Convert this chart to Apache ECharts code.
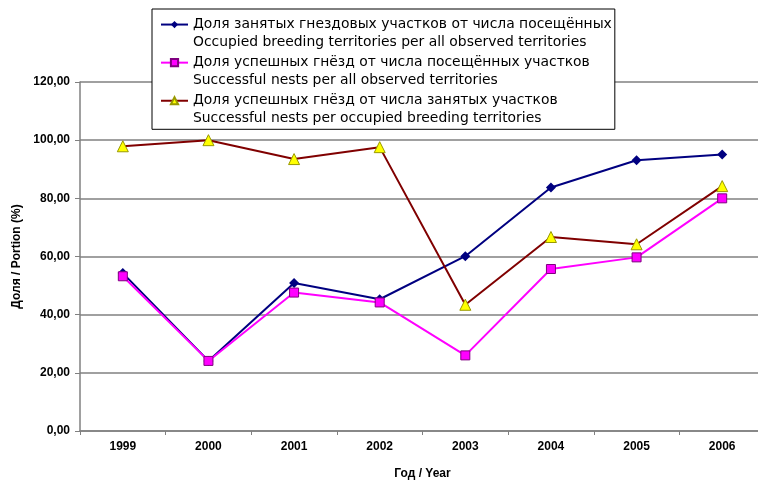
<!DOCTYPE html>
<html>
<head>
<meta charset="utf-8">
<script src="https://cdn.jsdelivr.net/npm/echarts@6/dist/echarts.min.js"></script>
<style>
html,body{margin:0;padding:0;background:#fff;}
#chart{width:758px;height:481px;}
</style>
</head>
<body>
<div id="chart"></div>
<script>
var years = ['1999','2000','2001','2002','2003','2004','2005','2006'];
var occupiedPerObserved = [54.3, 24.1, 50.9, 45.3, 60.1, 83.7, 93.1, 95.1];
var successPerObserved = [53.2, 24.1, 47.6, 44.2, 26.0, 55.7, 59.7, 80.0];
var successPerOccupied = [97.9, 100.0, 93.5, 97.6, 43.4, 66.7, 64.2, 84.2];
var namesRu = [
  'Доля занятых гнездовых участков от числа посещённых',
  'Доля успешных гнёзд от числа посещённых участков',
  'Доля успешных гнёзд от числа занятых участков'
];
var namesEn = [
  'Occupied breeding territories per all observed territories',
  'Successful nests per all observed territories',
  'Successful nests per occupied breeding territories'
];
var yTicks = { min: 0, max: 120, interval: 20 };

var font = 'Arial, "Liberation Sans", sans-serif';
var legendFont = '"DejaVu Sans", sans-serif';
var chart = echarts.init(document.getElementById('chart'));
chart.setOption({
  backgroundColor: '#ffffff',
  animation: false,
  grid: { left: 80, right: -7, top: 82, bottom: 50, containLabel: false, outerBoundsMode: 'none' },
  legend: {
    orient: 'vertical',
    left: 152,
    top: 9,
    padding: [-11, 3, 2, 8],
    itemWidth: 27,
    itemHeight: 9,
    itemGap: -15,
    backgroundColor: '#ffffff',
    borderColor: '#000000',
    borderWidth: 1,
    data: namesRu,
    formatter: function (name) {
      var i = namesRu.indexOf(name);
      return '\n' + name + '\n' + namesEn[i];
    },
    textStyle: {
      fontFamily: legendFont,
      fontSize: 13.9,
      color: '#000',
      lineHeight: 17.7
    }
  },
  xAxis: {
    type: 'category',
    data: years,
    boundaryGap: true,
    name: 'Год / Year',
    nameLocation: 'middle',
    nameGap: 37,
    nameTextStyle: { fontFamily: font, fontSize: 12, fontWeight: 'bold', color: '#000' },
    axisLine: { lineStyle: { color: '#808080', width: 1.5 } },
    axisTick: { show: true, length: 4, lineStyle: { color: '#808080' } },
    axisLabel: { fontFamily: font, fontSize: 12, fontWeight: 'bold', color: '#000', margin: 10 },
    splitLine: { show: false }
  },
  yAxis: {
    type: 'value',
    min: yTicks.min,
    max: yTicks.max,
    interval: yTicks.interval,
    name: 'Доля / Portion (%)',
    nameLocation: 'middle',
    nameGap: 56,
    nameTextStyle: { fontFamily: font, fontSize: 12, fontWeight: 'bold', color: '#000' },
    axisLine: { show: true, lineStyle: { color: '#808080', width: 1.5 } },
    axisTick: { show: true, length: 5, lineStyle: { color: '#808080' } },
    axisLabel: {
      fontFamily: font, fontSize: 12, fontWeight: 'bold', color: '#000', margin: 10,
      formatter: function (v) { return v.toFixed(2).replace('.', ','); }
    },
    splitLine: { show: true, lineStyle: { color: '#808080', width: 1.5 } }
  },
  series: [
    {
      name: namesRu[0],
      type: 'line',
      data: occupiedPerObserved,
      symbol: 'diamond',
      symbolSize: 10,
      lineStyle: { color: '#000080', width: 2 },
      itemStyle: { color: '#000080' }
    },
    {
      name: namesRu[1],
      type: 'line',
      data: successPerObserved,
      symbol: 'rect',
      symbolSize: 9,
      lineStyle: { color: '#ff00ff', width: 2 },
      itemStyle: { color: '#ff00ff', borderColor: '#800080', borderWidth: 1 }
    },
    {
      name: namesRu[2],
      type: 'line',
      data: successPerOccupied,
      symbol: 'triangle',
      symbolSize: 11,
      lineStyle: { color: '#800000', width: 2 },
      itemStyle: { color: '#ffff00', borderColor: '#999900', borderWidth: 1 }
    }
  ]
});
</script>
</body>
</html>
